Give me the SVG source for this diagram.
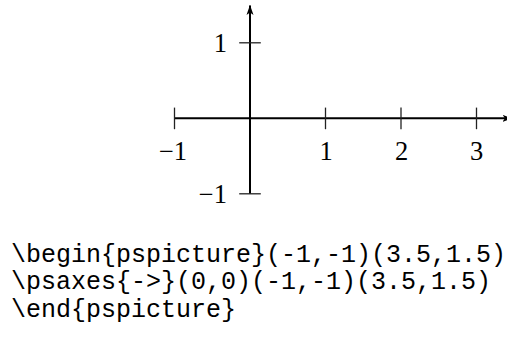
<svg xmlns="http://www.w3.org/2000/svg" width="507" height="342" viewBox="0 0 507 342">
<defs>
<style>
.axis{stroke:#000;stroke-width:2;fill:none}
.tick{stroke:#222;stroke-width:1.3;fill:none}
.lbl{font-family:"Liberation Serif","Times New Roman",serif;font-size:26.5px;fill:#000}
.code{font-family:"Liberation Mono","Courier New",monospace;font-size:25px;fill:#000}
</style>
<marker id="arr" viewBox="0 0 10 8" refX="9.5" refY="4" markerWidth="10" markerHeight="8" markerUnits="userSpaceOnUse" orient="auto">
<path d="M10,4 L0,0.5 L2.5,4 L0,7.5 Z" fill="#000"/>
</marker>
</defs>
<rect width="507" height="342" fill="#fff"/>
<g id="connectors">
<line class="axis" x1="174.5" y1="118.3" x2="512" y2="118.3" marker-end="url(#arr)"/>
<line class="axis" x1="250" y1="193.8" x2="250" y2="5.5" marker-end="url(#arr)"/>
</g>
<g id="x-ticks">
<line class="tick" x1="174.5" y1="107.6" x2="174.5" y2="129.2"/>
<line class="tick" x1="325.5" y1="107.6" x2="325.5" y2="129.2"/>
<line class="tick" x1="401" y1="107.6" x2="401" y2="129.2"/>
<line class="tick" x1="476.5" y1="107.6" x2="476.5" y2="129.2"/>
</g>
<g id="y-ticks">
<line class="tick" x1="239.2" y1="42.8" x2="260.8" y2="42.8"/>
<line class="tick" x1="239.2" y1="193.8" x2="260.8" y2="193.8"/>
</g>
<g id="x-labels" class="lbl" text-anchor="middle">
<text x="173" y="160">−1</text>
<text x="326" y="160">1</text>
<text x="401.5" y="160">2</text>
<text x="476.5" y="160">3</text>
</g>
<g id="y-labels" class="lbl" text-anchor="end">
<text x="227" y="52">1</text>
<text x="227" y="203">−1</text>
</g>
<g id="code" class="code">
<text x="11" y="261.5">\begin{pspicture}(-1,-1)(3.5,1.5)</text>
<text x="11" y="289">\psaxes{-&gt;}(0,0)(-1,-1)(3.5,1.5)</text>
<text x="11" y="316.5">\end{pspicture}</text>
</g>
</svg>
